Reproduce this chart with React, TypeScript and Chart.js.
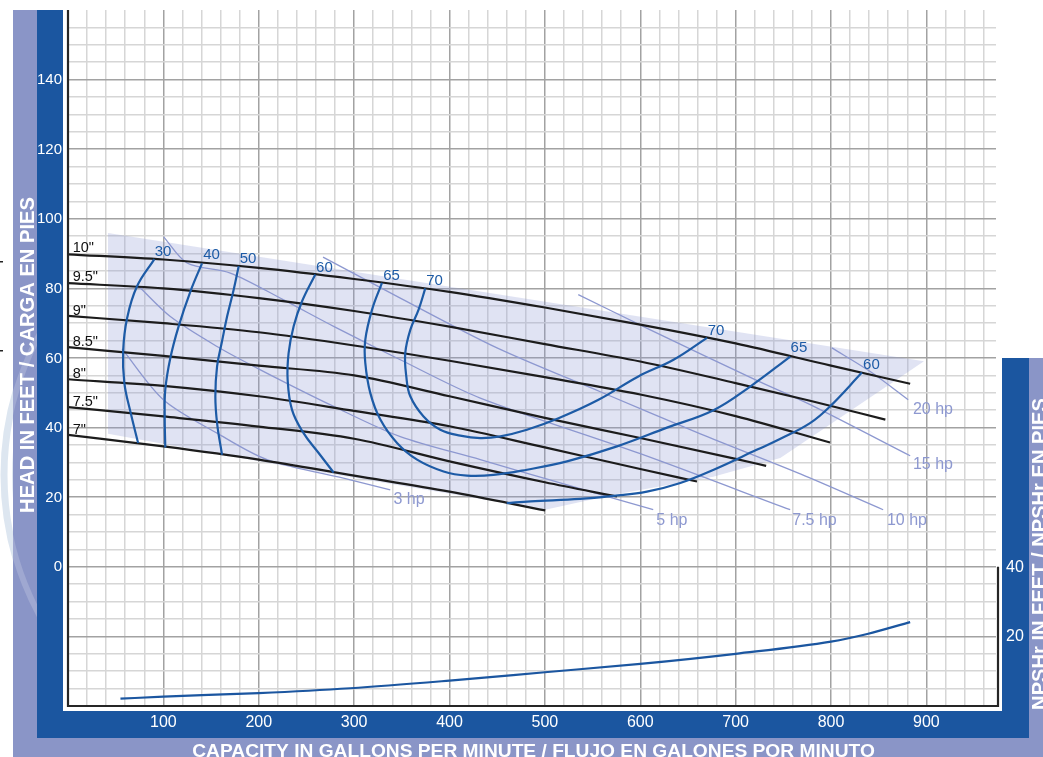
import React, { useEffect, useRef } from 'react';
import { Chart, registerables } from 'chart.js';

Chart.register(...registerables);

// ---------------- data ----------------
const X_MAX = 973;
const Y_MIN = -40;
const Y_MAX = 160;
const NPSH_MAX = 200;

const gpmTicks = [100, 200, 300, 400, 500, 600, 700, 800, 900];
const headTicks = [0, 20, 40, 60, 80, 100, 120, 140];
const npshTicks = [20, 40];

// impeller head curves [gpm, ft]
const imp10 = [[0, 89.8], [100, 88.3], [200, 85.9], [300, 82.7], [400, 79.0], [500, 74.5], [600, 69.6], [700, 64.2], [800, 57.8], [883, 52.6]];
const imp95 = [[0, 81.5], [100, 80.0], [200, 77.2], [300, 73.5], [400, 69.0], [500, 64.0], [600, 59.0], [700, 52.8], [778, 47.7], [857, 42.3]];
const imp9 = [[0, 72.1], [100, 70.0], [200, 67.4], [300, 63.6], [400, 59.2], [500, 54.5], [600, 49.5], [700, 43.3], [799, 35.7]];
const imp85 = [[0, 63.1], [100, 60.6], [200, 57.8], [300, 55.0], [400, 49.0], [500, 42.8], [600, 37.0], [700, 31.0], [732, 29.0]];
const imp8 = [[0, 53.9], [100, 52.0], [200, 49.0], [300, 44.8], [400, 40.4], [500, 34.3], [600, 28.1], [659.5, 24.5]];
const imp75 = [[0, 45.9], [100, 43.2], [200, 40.3], [300, 36.8], [400, 30.3], [500, 24.3], [575.6, 20.2]];
const imp7 = [[0, 37.9], [100, 34.6], [200, 30.8], [300, 26.2], [400, 21.6], [500.4, 16.2]];
const impLabels = ['10"', '9.5"', '9"', '8.5"', '8"', '7.5"', '7"'];
const impLabelPos = [[4.9, 90.5], [4.9, 82.1], [4.9, 72.4], [4.9, 63.4], [4.9, 54.2], [4.9, 46.2], [4.9, 38.2]];

// efficiency contours [gpm, ft]
const eff30 = [[90.6, 88.4], [72.4, 80.6], [62.0, 71.5], [57.8, 61.9], [59.1, 52.8], [65.4, 44.6], [73.5, 35.6]];
const eff40 = [[140.5, 87.2], [128.3, 79.1], [116.0, 69.1], [107.3, 60.0], [102.0, 50.9], [101.4, 43.2], [102.0, 34.3]];
const eff50 = [[179.0, 86.4], [173.7, 79.6], [166.8, 71.9], [161.5, 64.8], [156.3, 57.6], [154.5, 49.0], [156.3, 41.3], [161.5, 32.2]];
const eff60L = [[259.3, 84.0], [245.4, 76.3], [236.6, 69.1], [231.3, 61.4], [230.3, 53.8], [234.9, 45.1], [247.0, 38.4], [262.8, 32.7], [278.5, 27.1]];
const eff65 = [[329.2, 81.6], [318.8, 73.9], [311.7, 65.2], [311.7, 58.6], [317.0, 49.9], [327.5, 42.3], [345.0, 35.6], [366.0, 30.8], [393.8, 27.4], [418.3, 26.2], [446.2, 26.4], [481.2, 27.9], [523.2, 30.3], [575.6, 34.6], [628.0, 40.0], [676.8, 45.0], [715.3, 51.8], [757.3, 60.4]];
const eff70 = [[374.6, 80.0], [367.6, 73.9], [358.9, 68.1], [353.6, 61.4], [354.7, 54.7], [358.9, 49.0], [372.8, 43.2], [390.4, 39.4], [411.3, 37.7], [432.3, 37.0], [453.3, 37.5], [481.2, 39.4], [514.3, 42.7], [556.2, 48.0], [598.0, 54.7], [634.9, 59.5], [670.0, 65.8]];
const eff60R = [[460, 18.3], [485, 18.8], [537, 19.5], [572, 20.4], [607, 21.6], [642, 24.1], [677, 27.9], [722, 33.6], [747, 36.8], [778, 41.3], [799, 46.1], [832.4, 55.8]];
const effLabels = ['30', '40', '50', '60', '65', '70', '70', '65', '60'];
const effLabelPos = [[99.6, 90.5], [150.5, 89.7], [188.7, 88.4], [268.9, 86.0], [339.2, 83.7], [384.3, 82.1], [679.4, 67.8], [766.4, 62.9], [842.4, 58.1]];

// horsepower lines [gpm, ft]
const hp3 = [[56.7, 62.6], [100.0, 48.0], [156.3, 38.4], [208.7, 30.8], [296.0, 25.0], [337.9, 22.1]];
const hp5 = [[74.1, 80.6], [107.3, 71.9], [156.3, 63.3], [201.7, 56.6], [278.5, 46.1], [348.4, 37.4], [432.3, 30.8], [516.1, 24.1], [613.6, 16.4]];
const hp75 = [[100.3, 94.8], [124.8, 87.3], [170.2, 84.4], [226.1, 76.7], [278.5, 69.1], [348.4, 59.5], [432.3, 48.5], [600.0, 32.5], [757.2, 16.4]];
const hp10 = [[267.4, 89.0], [348.4, 77.2], [449.8, 62.9], [558.1, 50.3], [663.0, 38.2], [767.8, 26.7], [854.7, 16.4]];
const hp15 = [[535.0, 78.2], [610.5, 68.1], [722.6, 53.5], [778.2, 46.6], [883.0, 31.9]];
const hp20 = [[800.9, 62.9], [841.1, 56.1], [880.9, 48.0]];
const hpLabels = ['3 hp', '5 hp', '7.5 hp', '10 hp', '15 hp', '20 hp'];
const hpLabelPos = [[357.5, 19.2], [633.2, 13.4], [782.7, 13.4], [879.6, 13.4], [906.9, 29.3], [906.9, 45.3]];

// NPSHr [gpm, ft]
const npshCurve = [[55, 2.1], [100, 2.7], [200, 3.7], [296, 5.1], [400, 7.3], [500, 9.7], [600, 12.1], [700, 15.0], [800, 18.5], [838, 20.7], [883, 24.1]];

// operating region (shaded)
const shadeTop = [[41.9, 95.9], [897.5, 59.1]];
const shadeBottom = [[41.9, 38.2], [243.6, 28.2], [500.4, 16.4], [571.7, 20.7], [600, 22.1], [676.5, 25.9], [729, 29.9], [746.8, 31.3], [897.5, 59.1]];

// ---------------- styles ----------------
const FONT = '"Liberation Sans", Arial, Helvetica, sans-serif';
const DARK = '#1b56a0';
const LIGHT = '#8a95c7';
const EFF = '#1d5ba6';
const HPC = '#8d98d0';
const IMP = '#1c1c1c';
const SHADE = 'rgba(140,150,210,0.27)';
const MAJOR = '#a2a2a2';
const MINOR = '#d6d6d6';

const pts = (a: number[][]) => a.map(([x, y]) => ({ x, y }));

function fitFont(ctx: CanvasRenderingContext2D, text: string, width: number, weight: string) {
  ctx.font = `${weight} 20px ${FONT}`;
  const w = ctx.measureText(text).width;
  const size = (20 * width) / w;
  ctx.font = `${weight} ${size.toFixed(2)}px ${FONT}`;
}

const framePlugin = {
  id: 'frame',
  beforeDraw(chart: any) {
    const { ctx, width, height } = chart;
    ctx.save();
    ctx.fillStyle = '#ffffff';
    ctx.fillRect(0, 0, width, height);
    // faint watermark on the far left
    ctx.save();
    ctx.beginPath();
    ctx.rect(0, 0, 13, height);
    ctx.clip();
    ctx.strokeStyle = '#dde6f0';
    ctx.lineWidth = 7;
    ctx.beginPath();
    ctx.arc(300, 475, 296, 0, Math.PI * 2);
    ctx.stroke();
    ctx.lineWidth = 4;
    ctx.beginPath();
    ctx.arc(300, 475, 286, 0, Math.PI * 2);
    ctx.stroke();
    ctx.restore();
    ctx.fillStyle = '#222';
    ctx.fillRect(0, 261, 3, 1.5);
    ctx.fillRect(0, 350, 3, 1.5);
    // light bands
    ctx.fillStyle = LIGHT;
    ctx.fillRect(13, 10, 24, height - 10);
    ctx.fillRect(13, 738, 1017, height - 738);
    ctx.fillRect(1029, 358, width - 1029, height - 358);
    // dark bands
    ctx.fillStyle = DARK;
    ctx.fillRect(37, 10, 26, 728);
    ctx.fillRect(37, 711, 992, 27);
    ctx.fillRect(1002, 358, 27, 380);
    // subtle light arc across the left band
    ctx.save();
    ctx.beginPath();
    ctx.rect(13, 300, 24, 400);
    ctx.clip();
    ctx.strokeStyle = 'rgba(255,255,255,0.18)';
    ctx.lineWidth = 6;
    ctx.beginPath();
    ctx.arc(300, 475, 296, 0, Math.PI * 2);
    ctx.stroke();
    ctx.restore();
    ctx.restore();
  },
  afterDraw(chart: any) {
    const { ctx, chartArea, scales } = chart;
    const xs = scales.x;
    const ys = scales.y;
    const y2 = scales.y2;
    ctx.save();
    // axis lines
    ctx.strokeStyle = '#262626';
    ctx.lineWidth = 2.2;
    ctx.beginPath();
    const x0 = xs.getPixelForValue(0);
    ctx.moveTo(x0, chartArea.top);
    ctx.lineTo(x0, chartArea.bottom);
    ctx.lineTo(chartArea.right + 2, chartArea.bottom);
    ctx.lineTo(chartArea.right + 2, y2.getPixelForValue(40));
    ctx.stroke();

    // tick labels
    ctx.fillStyle = '#ffffff';
    ctx.textBaseline = 'middle';
    ctx.font = `15px ${FONT}`;
    ctx.textAlign = 'right';
    headTicks.forEach((v) => ctx.fillText(String(v), 62, ys.getPixelForValue(v) + 0.5));
    ctx.font = `16px ${FONT}`;
    ctx.textAlign = 'center';
    gpmTicks.forEach((v) => ctx.fillText(String(v), xs.getPixelForValue(v), 723));
    npshTicks.forEach((v) => ctx.fillText(String(v), 1015, y2.getPixelForValue(v) + 0.5));

    // axis titles
    ctx.textBaseline = 'alphabetic';
    const leftTitle = 'HEAD IN FEET / CARGA EN PIES';
    fitFont(ctx, leftTitle, 316, 'bold');
    ctx.save();
    ctx.translate(33.5, 355);
    ctx.rotate(-Math.PI / 2);
    ctx.fillText(leftTitle, 0, 0);
    ctx.restore();

    const rightTitle = 'NPSHr IN FEET / NPSHr EN PIES';
    fitFont(ctx, rightTitle, 312, 'bold');
    ctx.save();
    ctx.translate(1046, 554);
    ctx.rotate(-Math.PI / 2);
    ctx.fillText(rightTitle, 0, 0);
    ctx.restore();

    const bottomTitle = 'CAPACITY IN GALLONS PER MINUTE / FLUJO EN GALONES POR MINUTO';
    fitFont(ctx, bottomTitle, 683, 'bold');
    ctx.fillText(bottomTitle, 533.5, 757);

    // curve labels
    ctx.textBaseline = 'alphabetic';
    ctx.textAlign = 'left';
    ctx.fillStyle = '#111';
    ctx.font = `14.5px ${FONT}`;
    impLabels.forEach((t, i) => ctx.fillText(t, xs.getPixelForValue(impLabelPos[i][0]), ys.getPixelForValue(impLabelPos[i][1])));

    ctx.textAlign = 'center';
    ctx.textBaseline = 'middle';
    ctx.fillStyle = EFF;
    ctx.font = `15px ${FONT}`;
    effLabels.forEach((t, i) => ctx.fillText(t, xs.getPixelForValue(effLabelPos[i][0]), ys.getPixelForValue(effLabelPos[i][1])));

    ctx.fillStyle = HPC;
    ctx.font = `16px ${FONT}`;
    hpLabels.forEach((t, i) => ctx.fillText(t, xs.getPixelForValue(hpLabelPos[i][0]), ys.getPixelForValue(hpLabelPos[i][1])));
    ctx.restore();
  },
};

function line(data: number[][], color: string, width: number, extra: any = {}) {
  return {
    data: pts(data),
    borderColor: color,
    borderWidth: width,
    pointRadius: 0,
    pointHoverRadius: 0,
    fill: false,
    ...extra,
  };
}

export default function App() {
  const ref = useRef<HTMLCanvasElement>(null);

  useEffect(() => {
    const canvas = ref.current;
    if (!canvas) return;
    const impellers = [imp10, imp95, imp9, imp85, imp8, imp75, imp7];
    const effs = [eff30, eff40, eff50, eff60L, eff65, eff70, eff60R];
    const hps = [hp3, hp5, hp75, hp10, hp15, hp20];

    const datasets: any[] = [
      {
        data: pts(shadeTop),
        borderWidth: 0,
        borderColor: 'rgba(0,0,0,0)',
        backgroundColor: SHADE,
        pointRadius: 0,
        fill: '+1',
        tension: 0,
        order: 100,
      },
      {
        data: pts(shadeBottom),
        borderWidth: 0,
        borderColor: 'rgba(0,0,0,0)',
        pointRadius: 0,
        fill: false,
        tension: 0,
        order: 99,
      },
      ...hps.map((d) => line(d, HPC, 1.3, { tension: 0.3, order: 50 })),
      ...impellers.map((d) => line(d, IMP, 2.2, { cubicInterpolationMode: 'monotone', order: 10 })),
      ...effs.map((d) => line(d, EFF, 2.2, { tension: 0.4, order: 5 })),
      line(npshCurve, DARK, 2.2, { cubicInterpolationMode: 'monotone', yAxisID: 'y2', order: 5 }),
    ];

    const chart = new Chart(canvas, {
      type: 'line',
      data: { datasets },
      options: {
        responsive: false,
        animation: false,
        devicePixelRatio: 1,
        events: [],
        layout: { padding: { left: 68, right: 47, top: 10, bottom: 51 } },
        plugins: { legend: { display: false }, tooltip: { enabled: false } },
        scales: {
          x: {
            type: 'linear',
            min: 0,
            max: X_MAX,
            border: { display: false },
            ticks: { display: false, stepSize: 20, includeBounds: false, autoSkip: false },
            grid: {
              drawTicks: false,
              lineWidth: 1.5,
              color: (c: any) => (c.tick.value === 0 ? 'rgba(0,0,0,0)' : c.tick.value % 100 === 0 ? MAJOR : MINOR),
            },
          },
          y: {
            type: 'linear',
            min: Y_MIN,
            max: Y_MAX,
            border: { display: false },
            ticks: { display: false, stepSize: 5, autoSkip: false },
            grid: {
              drawTicks: false,
              lineWidth: 1.5,
              color: (c: any) =>
                c.tick.value === Y_MAX || c.tick.value === Y_MIN
                  ? 'rgba(0,0,0,0)'
                  : c.tick.value % 20 === 0
                  ? MAJOR
                  : MINOR,
            },
          },
          y2: {
            type: 'linear',
            position: 'right',
            min: 0,
            max: NPSH_MAX,
            display: false,
          },
        },
      },
      plugins: [framePlugin],
    } as any);

    return () => chart.destroy();
  }, []);

  return (
    <div style={{ position: 'absolute', left: 0, top: 0, width: 1043, height: 757, background: '#fff' }}>
      <canvas ref={ref} width={1043} height={757} style={{ display: 'block', width: 1043, height: 757 }} />
    </div>
  );
}
